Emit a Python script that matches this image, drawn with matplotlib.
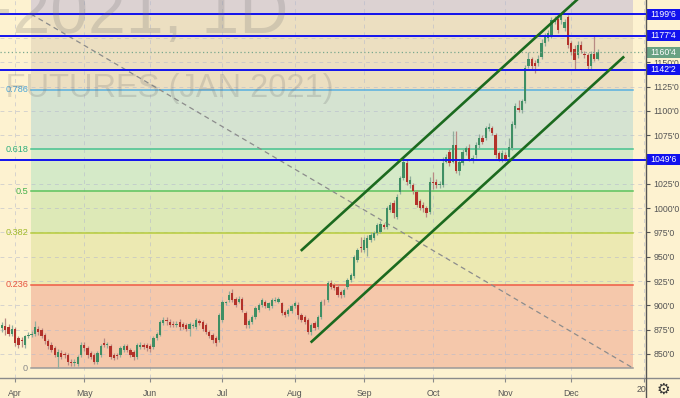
import matplotlib
matplotlib.use('Agg')
import matplotlib.pyplot as plt
import numpy as np
from matplotlib.patches import Rectangle
from matplotlib.lines import Line2D
from matplotlib.transforms import Bbox, TransformedBbox

plt.rcParams['font.family'] = ['Liberation Sans', 'DejaVu Sans']

# ---------------- data ----------------
first_bar = -4  # index of the first visible bar relative to Apr 1 2020
opens = [877, 879, 878, 871, 876, 866, 864, 859, 868, 870,
         871, 876, 875, 870, 863, 859, 856, 847, 851, 849.5,
         849, 842, 841, 840, 849, 859, 856, 851, 849, 842,
         849, 861, 859, 858, 849, 849, 849, 854, 858, 854,
         852, 847, 857, 859, 859, 858, 857, 866, 870, 882,
         885, 883, 881, 880, 883, 881, 880, 876, 879, 878,
         884, 883, 880, 873, 870, 866, 864, 885, 902, 906,
         913, 907, 904, 907, 892, 880, 883, 888, 895, 900,
         904, 897, 899, 905, 904, 902, 893, 891, 894, 899,
         900, 890, 888, 885, 873, 882, 878, 888, 904, 906,
         923, 921, 919, 914, 911, 919, 926, 930, 947, 960,
         957, 959, 967, 969, 974, 976, 983, 981, 998, 1005,
         991, 1017, 1031, 1046, 1025, 1024, 1017, 1007, 1003, 1000,
         996, 1027, 1027, 1024, 1024, 1048, 1058, 1048, 1065, 1038,
         1046, 1058, 1062, 1051, 1055, 1065, 1072, 1072, 1081, 1082,
         1075, 1057, 1051, 1055, 1053, 1062, 1086, 1103, 1101, 1110,
         1146, 1153, 1149, 1149, 1156, 1170, 1175, 1178, 1192, 1195,
         1194, 1185, 1197, 1170, 1164, 1158, 1168, 1159, 1158, 1146,
         1159, 1154]
highs = [883, 887, 881, 880, 878, 869, 867, 870, 873, 874,
         884, 879, 877, 872, 865, 862, 858, 855, 854, 852,
         851, 845, 845, 849, 862, 862, 858, 853, 851, 853,
         860, 866, 862, 860, 851, 851, 858, 860, 860, 856,
         854, 861, 862, 861, 861, 860, 868, 873, 885, 888,
         888, 886, 884, 884, 886, 883, 882, 883, 882, 887,
         886, 885, 882, 875, 872, 868, 892, 906, 905, 915,
         917, 909, 910, 909, 894, 886, 890, 899, 902, 908,
         906, 904, 908, 909, 909, 904, 895, 897, 901, 905,
         903, 892, 890, 887, 882, 884, 890, 906, 907, 925,
         926, 923, 922, 916, 918, 928, 933, 952, 959, 970,
         970, 972, 975, 977, 985, 987, 985, 1002, 1006, 1008,
         1015, 1033, 1052, 1050, 1033, 1026, 1019, 1009, 1006, 1002,
         1032, 1037, 1030, 1028, 1053, 1056, 1061, 1079, 1079, 1051,
         1061, 1064, 1066, 1055, 1068, 1076, 1075, 1085, 1088, 1085,
         1077, 1059, 1060, 1058, 1072, 1090, 1108, 1111, 1112, 1147,
         1161, 1156, 1152, 1158, 1174, 1180, 1183, 1197, 1198, 1198,
         1199.75, 1195, 1199, 1172, 1168, 1172, 1172, 1162, 1160, 1162,
         1177.5, 1164]
lows = [873, 870, 868, 868, 858, 856, 857, 856, 866, 867,
        869, 870, 866, 860, 855, 852, 847, 835.5, 845, 846,
        839, 838, 838, 838, 847, 853, 846, 845, 840, 840,
        847, 857, 856, 845, 844, 845, 847, 852, 852, 847,
        844, 845, 855, 855, 853, 852, 855, 864, 868, 880,
        880, 878, 878, 878, 875, 876, 874, 869, 877, 876,
        880, 874, 871, 866, 861, 858, 862, 883, 900, 904,
        904, 898, 902, 893, 877, 877, 881, 886, 893, 898,
        897, 895, 897, 903, 902, 890, 888, 889, 892, 897,
        886, 883, 881, 871, 870, 875, 876, 886, 900, 904,
        917, 916, 909, 908, 909, 917, 924, 928, 945, 955,
        955, 951, 965, 967, 972, 974, 979, 979, 996, 990,
        989, 1015, 1029, 1024, 1021, 1015, 1001, 998, 996, 991,
        994, 1020, 1021, 1021, 1022, 1046, 1043, 1046, 1036, 1034,
        1044, 1055, 1049, 1047, 1052, 1062, 1066, 1070, 1079, 1075,
        1052, 1049, 1048, 1049, 1050, 1060, 1083, 1099, 1098, 1108,
        1144, 1142, 1139, 1146, 1154, 1167, 1172, 1175, 1190, 1180,
        1190, 1182, 1165, 1158, 1143, 1155, 1160, 1155, 1142, 1142,
        1151, 1152]
closes = [880, 875, 871, 876, 861, 859, 863, 868, 870, 871,
          878, 873, 868, 863, 858, 854, 849, 852, 847, 848.5,
          842, 840.5, 842, 847, 859, 856, 849, 847, 842, 851,
          858, 859, 859.5, 847, 846, 847.5, 856, 858, 854, 849,
          847, 859, 859, 857, 856, 855, 866, 871, 883, 885,
          883.5, 880, 880, 881, 878, 878, 876, 881, 880, 885,
          882, 876, 873, 868, 864, 861, 890, 904, 903, 911,
          906, 900, 907, 895, 880, 884, 888, 897, 900, 906,
          899, 902, 906, 906, 907, 892, 890, 895, 899, 902,
          890, 885, 883, 873, 880, 877, 888, 904, 903, 923,
          919, 918, 911, 911, 916, 926, 931, 950, 957, 959,
          967, 969, 972, 974, 983, 984, 981, 1000, 1003, 995,
          1012, 1031, 1048, 1027, 1029, 1018, 1003, 1000, 1000, 995,
          1027, 1026, 1024, 1025, 1046, 1053, 1046, 1065, 1038, 1048,
          1058, 1062, 1051, 1052, 1065, 1072, 1068, 1082, 1084, 1077,
          1055, 1051, 1057, 1051, 1063, 1087, 1105, 1101, 1110, 1144,
          1153, 1146, 1146, 1154, 1170, 1177, 1180, 1194, 1195, 1183,
          1199, 1192, 1168, 1161, 1152, 1168, 1163, 1158, 1146, 1159,
          1154, 1160.5]

month_labels = ['Apr', 'May', 'Jun', 'Jul', 'Aug', 'Sep', 'Oct', 'Nov', 'Dec', '2021']
month_bars = [0, 21, 41, 63, 85, 106, 127, 149, 169, 191]

price_ticks = [850, 875, 900, 925, 950, 975, 1000, 1025, 1075, 1100, 1125, 1150]
price_tick_labels = ["850'0", "875'0", "900'0", "925'0", "950'0", "975'0", "1000'0", "1025'0",
                     "1075'0", "1100'0", "1125'0", "1150'0"]
grid_prices = [850, 875, 900, 925, 950, 975, 1000, 1025, 1050, 1075, 1100, 1125, 1150, 1175, 1200]

fib_high = 1199.75
fib_low = 835.5
fib_bars = [4.8, 187.8]
fib_levels = [0, 0.236, 0.382, 0.5, 0.618, 0.786, 1]
fib_labels = ['0', '0.236', '0.382', '0.5', '0.618', '0.786', '']
fib_line_colors = ['#9a9a9a', '#ef5a44', '#b6cc3c', '#5cc25c', '#46c28f', '#58b0e0', '#9a9a9a']
fib_text_colors = ['#8a8a8a', '#e8553f', '#a2bb2c', '#45b04a', '#30ae7c', '#4aa6d8', '#8a8a8a']
fib_zone_colors = ['#f5c8ab', '#ece9b2', '#dde9b7', '#d5eac8', '#d5e3d1', '#ecdfc1', '#dcd2d2']

hline_prices = [1199.75, 1177.5, 1142.25, 1049.75]
hline_labels = ["1199'6", "1177'4", "1142'2", "1049'6"]
last_price = 1160.5
last_label = "1160'4"

upper_channel_bars = [87.1, 171.6]
upper_channel_prices = [957.0, 1217.0]
lower_channel_bars = [90.1, 184.8]
lower_channel_prices = [862.7, 1155.2]

# ---------------- figure ----------------
W, H = 680, 398
bg = '#fdf2d0'
fig = plt.figure(figsize=(W / 100, H / 100), dpi=100, facecolor=bg)
ax = fig.add_axes([0, 20 / H, 646 / W, 378 / H])
ax.set_facecolor(bg)
ax.set_xlim(-4.62, 191.73)
ax.set_ylim(825.3, 1214.2)

# fib zones
fib_prices = [fib_low + l * (fib_high - fib_low) for l in fib_levels]
zone_edges = fib_prices + [1300]
for k in range(len(zone_edges) - 1):
    ax.fill_between(fib_bars, zone_edges[k], zone_edges[k + 1],
                    color=fib_zone_colors[k], linewidth=0, zorder=0.2)
for k, p in enumerate(fib_prices):
    ax.plot(fib_bars, [p, p], color=fib_line_colors[k], lw=1.1, zorder=2)
    if fib_labels[k]:
        ax.text(3.9, p, fib_labels[k], ha='right', va='center', fontsize=6.6,
                color=fib_text_colors[k], zorder=2)

# fib trend (dashed)
ax.plot(fib_bars, [fib_high, fib_low], color='#8c8c8c', lw=0.9,
        linestyle=(0, (4, 3)), zorder=2.2)

# watermark
fig.text(288 / W, (H - 33) / H, 'ZSF2021, 1D', ha='right', va='baseline',
         fontsize=49, color='#707070', alpha=0.22, zorder=0.5)
fig.text(334 / W, (H - 97) / H, 'SOYBEAN FUTURES (JAN 2021)', ha='right', va='baseline',
         fontsize=23.5, color='#707070', alpha=0.22, zorder=0.5)

# ticks and grid
ax.set_xticks(month_bars)
ax.set_xticklabels(month_labels[:-1] + [''])
ax.set_yticks(price_ticks)
ax.set_yticklabels(price_tick_labels)
ax.grid(True, axis='x', color='#b4b8cc', alpha=0.55, lw=0.7, linestyle=(0, (4, 4)))
for gp in grid_prices:
    ax.axhline(gp, color='#b4b8cc', alpha=0.55, lw=0.7, linestyle=(0, (4, 4)), zorder=1.5)
ax.set_axisbelow('line')

# candles
x = np.arange(len(closes)) + first_bar
o = np.array(opens, float); c = np.array(closes, float)
h = np.array(highs, float); l = np.array(lows, float)
up = c >= o
green, red = '#3f8f64', '#b3322a'
wick_g, wick_r = '#90ad9c', '#b88a84'
ax.vlines(x[up], l[up], h[up], color=wick_g, lw=0.9, zorder=3)
ax.vlines(x[~up], l[~up], h[~up], color=wick_r, lw=0.9, zorder=3)
body_b = np.minimum(o, c)
body_h = np.maximum(np.abs(c - o), 1.0)
ax.bar(x[up], body_h[up], bottom=body_b[up], width=0.7, color=green, linewidth=0, zorder=3.2)
ax.bar(x[~up], body_h[~up], bottom=body_b[~up], width=0.7, color=red, linewidth=0, zorder=3.2)

# horizontal blue levels
for p in hline_prices:
    ax.axhline(p, color='#1212ee', lw=1.4, zorder=4)
ax.axhline(last_price, color='#7aa88e', lw=0.9, linestyle=(0, (1, 2)), zorder=4)

# channel lines
ax.plot(upper_channel_bars, upper_channel_prices, color='#1b6a1e', lw=1.9, zorder=5)
ax.plot(lower_channel_bars, lower_channel_prices, color='#1b6a1e', lw=1.9, zorder=5)

# axes styling
for s in ['top', 'left', 'bottom', 'right']:
    ax.spines[s].set_visible(False)
ax.yaxis.tick_right()
ax.tick_params(axis='y', which='both', length=3, width=0.8, color='#555555',
               labelsize=6.3, labelcolor='#555555', pad=2.5, left=False, right=True)
ax.tick_params(axis='x', which='both', length=3, width=0.8, color='#8a8a8a',
               labelsize=6.3, labelcolor='#555555', pad=5, direction='out')

# axis lines extending to the figure edges
fig.add_artist(Line2D([0, 1], [20 / H, 20 / H], transform=fig.transFigure,
                      color='#8a8a8a', lw=1.0))
fig.add_artist(Line2D([646 / W, 646 / W], [0, 1], transform=fig.transFigure,
                      color='#555555', lw=1.0))

# clipped "2021" label
t = ax.text(month_bars[-1] + 0.9, 825.3 - 11.8, month_labels[-1], ha='center', va='center',
            fontsize=6.3, color='#555555', clip_on=True)
t.set_clip_box(TransformedBbox(Bbox([[0, 0], [646 / W, 1]]), fig.transFigure))

# price labels on the axis
ytr = ax.get_yaxis_transform()
box_h = 11 * (1214.2 - 825.3) / 378
for p, lab in zip(hline_prices, hline_labels):
    ax.add_patch(Rectangle((1.0015, p - box_h / 2), 34 / 646, box_h, transform=ytr,
                           facecolor='#1212ee', edgecolor='none', clip_on=False, zorder=10))
    ax.text(1.0 + 17.5 / 646, p, lab, transform=ytr, ha='center', va='center',
            fontsize=6.3, color='white', zorder=11, clip_on=False)
ax.add_patch(Rectangle((1.0015, last_price - box_h / 2), 34 / 646, box_h, transform=ytr,
                       facecolor='#68a283', edgecolor='none', clip_on=False, zorder=10))
ax.text(1.0 + 17.5 / 646, last_price, last_label, transform=ytr, ha='center', va='center',
        fontsize=6.3, color='white', zorder=11, clip_on=False)

# settings gear
fig.text(663 / W, (H - 389) / H, '\u2699', ha='center', va='center', fontsize=11,
         color='#333333', family='DejaVu Sans')

fig.savefig('out.png', dpi=100, facecolor=bg)
